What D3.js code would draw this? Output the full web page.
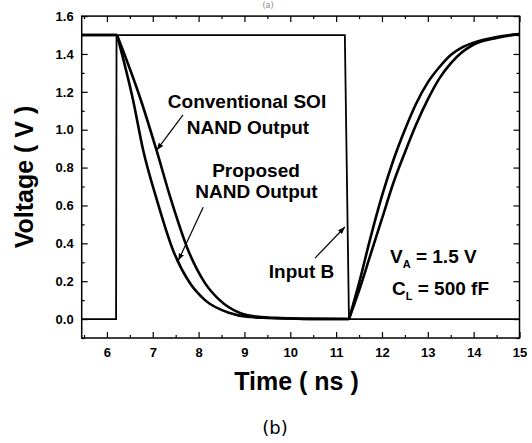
<!DOCTYPE html>
<html><head><meta charset="utf-8">
<script src="https://cdn.jsdelivr.net/npm/d3@7"></script>
<style>
html,body{margin:0;padding:0;background:#fff;}
svg{display:block;}
text{font-family:"Liberation Sans",Arial,sans-serif;}
</style></head>
<body>
<svg id="chart" width="532" height="443"></svg>
<script>
// ---- data ----
const xTickValues = [6, 7, 8, 9, 10, 11, 12, 13, 14, 15];
const yTickValues = [0.0, 0.2, 0.4, 0.6, 0.8, 1.0, 1.2, 1.4, 1.6];
const yTickLabels = ["0.0", "0.2", "0.4", "0.6", "0.8", "1.0", "1.2", "1.4", "1.6"];

const inputBTime = [5.45, 6.2, 6.21, 11.19, 11.28, 15];
const inputBVolt = [0, 0, 1.5, 1.5, 0, 0];

const convTime = [5.45, 6.22, 6.74, 7.08, 7.40, 7.77, 8.14, 8.46, 8.90, 9.3, 9.8, 10.5, 11.28,
                  11.5, 11.75, 12.0, 12.25, 12.5, 12.75, 13.0, 13.25, 13.5, 13.75, 14.0, 14.5, 15];
const convVolt = [1.5, 1.5, 1.157, 0.893, 0.629, 0.365, 0.19, 0.10, 0.032, 0.012, 0.005, 0.001, 0,
                  0.15, 0.34, 0.53, 0.72, 0.88, 1.03, 1.16, 1.27, 1.35, 1.41, 1.45, 1.485, 1.505];

const propTime = [5.45, 6.22, 6.57, 6.79, 7.09, 7.44, 7.81, 8.14, 8.68, 9.05, 9.5, 10.0, 10.5, 11.28,
                  11.5, 11.75, 12.0, 12.25, 12.5, 12.75, 13.0, 13.25, 13.5, 13.75, 14.0, 14.5, 15];
const propVolt = [1.5, 1.5, 1.157, 0.893, 0.629, 0.365, 0.19, 0.10, 0.032, 0.012, 0.006, 0.003, 0.001, 0,
                  0.19, 0.43, 0.65, 0.84, 1.0, 1.14, 1.25, 1.33, 1.395, 1.435, 1.46, 1.49, 1.505];

const cornerTimes = [6.22, 11.28];

// ---- layout ----
const svg = d3.select("#chart");
const L = 81.7, R = 519.5, T = 16.1, B = 338;
const x = d3.scaleLinear().domain([5.45, 15]).range([L, R]);
const y = d3.scaleLinear().domain([-0.1, 1.6]).range([B, T]);

const tickFont = "bold 13px 'Liberation Sans', Arial, sans-serif";

// frame
svg.append("rect").attr("x", L).attr("y", T).attr("width", R - L).attr("height", B - T)
  .attr("fill", "none").attr("stroke", "#000").attr("stroke-width", 1.5);

const xMinor = d3.range(5.5, 15.01, 1);
const yMinor = d3.range(-0.1, 1.61, 0.2).map(v => +v.toFixed(2));

function styleAxis(g) {
  g.select(".domain").remove();
  g.selectAll("line").attr("stroke", "#000").attr("stroke-width", 1.2);
  g.selectAll("text").style("font", tickFont).attr("fill", "#000");
}

// bottom
svg.append("g").attr("transform", `translate(0,${B})`)
  .call(d3.axisBottom(x).tickValues(xTickValues).tickFormat(d3.format("d")).tickSizeInner(-6).tickSizeOuter(0).tickPadding(10))
  .call(styleAxis);
svg.append("g").attr("transform", `translate(0,${B})`)
  .call(d3.axisBottom(x).tickValues(xMinor).tickFormat("").tickSizeInner(-3).tickSizeOuter(0))
  .call(styleAxis);
// top
svg.append("g").attr("transform", `translate(0,${T})`)
  .call(d3.axisTop(x).tickValues(xTickValues).tickFormat("").tickSizeInner(-6).tickSizeOuter(0))
  .call(styleAxis);
svg.append("g").attr("transform", `translate(0,${T})`)
  .call(d3.axisTop(x).tickValues(xMinor).tickFormat("").tickSizeInner(-3).tickSizeOuter(0))
  .call(styleAxis);
// left
svg.append("g").attr("transform", `translate(${L},0)`)
  .call(d3.axisLeft(y).tickValues(yTickValues).tickFormat((d, i) => yTickLabels[i]).tickSizeInner(-6).tickSizeOuter(0).tickPadding(8))
  .call(styleAxis);
svg.append("g").attr("transform", `translate(${L},0)`)
  .call(d3.axisLeft(y).tickValues(yMinor).tickFormat("").tickSizeInner(-3).tickSizeOuter(0))
  .call(styleAxis);
// right
svg.append("g").attr("transform", `translate(${R},0)`)
  .call(d3.axisRight(y).tickValues(yTickValues).tickFormat("").tickSizeInner(-6).tickSizeOuter(0))
  .call(styleAxis);
svg.append("g").attr("transform", `translate(${R},0)`)
  .call(d3.axisRight(y).tickValues(yMinor).tickFormat("").tickSizeInner(-3).tickSizeOuter(0))
  .call(styleAxis);

// ---- series ----
function toPoints(ts, vs) { return ts.map((t, i) => [t, vs[i]]); }
function splitAtCorners(pts) {
  const segs = [[]];
  pts.forEach(p => {
    segs[segs.length - 1].push(p);
    if (cornerTimes.includes(p[0])) segs.push([p]);
  });
  return segs.filter(s => s.length > 1);
}
const smooth = d3.line().x(d => x(d[0])).y(d => y(d[1])).curve(d3.curveMonotoneX);
const straight = d3.line().x(d => x(d[0])).y(d => y(d[1]));

svg.append("path").attr("d", straight(toPoints(inputBTime, inputBVolt)))
  .attr("fill", "none").attr("stroke", "#000").attr("stroke-width", 1.8).attr("stroke-linejoin", "miter");

[[convTime, convVolt], [propTime, propVolt]].forEach(([ts, vs]) => {
  splitAtCorners(toPoints(ts, vs)).forEach(seg => {
    svg.append("path").attr("d", smooth(seg))
      .attr("fill", "none").attr("stroke", "#000").attr("stroke-width", 2.6).attr("stroke-linejoin", "round");
  });
});

// ---- arrows ----
const defs = svg.append("defs");
defs.append("marker").attr("id", "ah").attr("viewBox", "0 0 10 10").attr("refX", 10).attr("refY", 5)
  .attr("markerWidth", 7).attr("markerHeight", 7).attr("markerUnits", "userSpaceOnUse").attr("orient", "auto")
  .append("path").attr("d", "M0,1 L10,5 L0,9 z").attr("fill", "#000");

const arrows = [
  {from: [7.66, 1.078], to: [7.09, 0.893]},
  {from: [8.10, 0.59], to: [7.56, 0.31]},
  {from: [10.54, 0.322], to: [11.19, 0.486]}
];
arrows.forEach(a => {
  svg.append("line").attr("x1", x(a.from[0])).attr("y1", y(a.from[1]))
    .attr("x2", x(a.to[0])).attr("y2", y(a.to[1]))
    .attr("stroke", "#000").attr("stroke-width", 1.2).attr("marker-end", "url(#ah)");
});

// ---- annotation text ----
const annFont = "bold 19px 'Liberation Sans', Arial, sans-serif";
function ann(tx, ty, str, anchor) {
  return svg.append("text").attr("x", tx).attr("y", ty).attr("text-anchor", anchor || "middle")
    .style("font", annFont).attr("fill", "#000").text(str);
}
ann(247, 108, "Conventional SOI");
ann(248, 134, "NAND Output");
ann(256, 177, "Proposed");
ann(256.5, 198, "NAND Output");
ann(301.5, 278, "Input B");

const va = svg.append("text").attr("x", 390).attr("y", 263).style("font", annFont).attr("fill", "#000");
va.append("tspan").text("V");
va.append("tspan").attr("dy", 5).style("font-size", "11px").text("A");
va.append("tspan").attr("dy", -5).text(" = 1.5 V");
const cl = svg.append("text").attr("x", 392).attr("y", 295).style("font", annFont).attr("fill", "#000");
cl.append("tspan").text("C");
cl.append("tspan").attr("dy", 5).style("font-size", "11px").text("L");
cl.append("tspan").attr("dy", -5).text(" = 500 fF");

// axis titles
svg.append("text").attr("transform", `translate(33,177) rotate(-90)`).attr("text-anchor", "middle")
  .style("font", "bold 25px 'Liberation Sans', Arial, sans-serif").attr("fill", "#000").text("Voltage ( V )");
svg.append("text").attr("x", 296.5).attr("y", 390).attr("text-anchor", "middle")
  .style("font", "bold 25px 'Liberation Sans', Arial, sans-serif").attr("fill", "#000").text("Time ( ns )");

// captions
svg.append("text").attr("x", 275).attr("y", 434).attr("text-anchor", "middle")
  .style("font", "18px 'DejaVu Sans', sans-serif").attr("fill", "#000").text("(b)");
svg.append("text").attr("x", 268).attr("y", 8).attr("text-anchor", "middle")
  .style("font", "8px 'DejaVu Sans', sans-serif").attr("fill", "#888").text("(a)");
</script>
</body></html>
